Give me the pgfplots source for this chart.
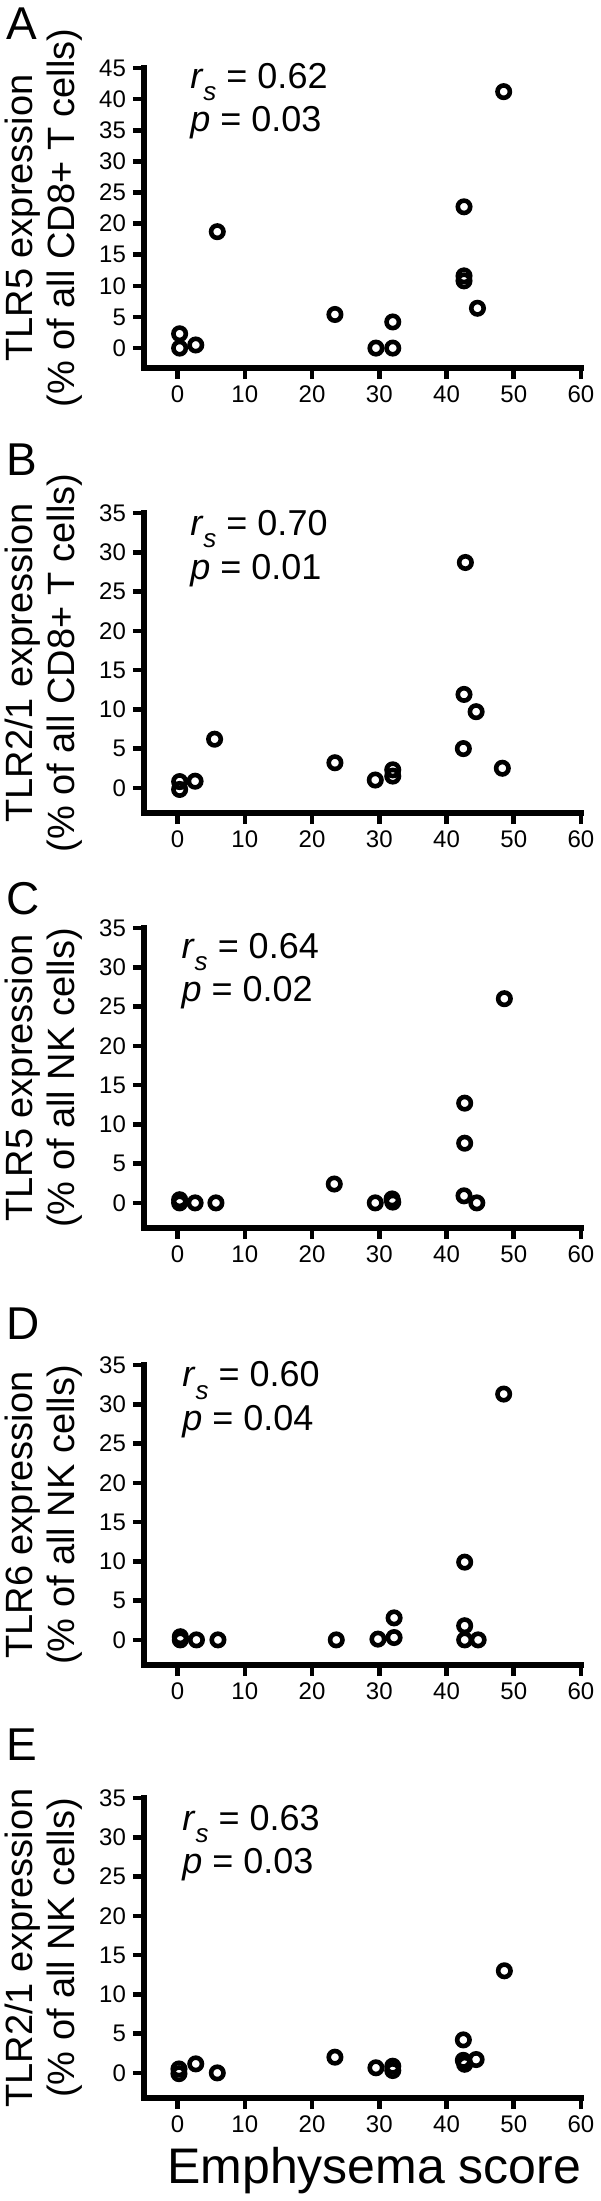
\documentclass[border=0pt]{standalone}
\usepackage{pgfplots}
\pgfplotsset{compat=1.18}
\usepackage{fontspec}
\setmainfont{Liberation Sans}

\pgfplotsset{
  panel/.style={
    scale only axis, width=218.5pt, height=150pt,
    xmin=-5, xmax=60, ymin=-3.2,
    axis x line=bottom, axis y line=left,
    axis line style={-, line width=3pt, line cap=rect},
    tick align=outside, major tick length=5.5pt,
    every tick/.style={black, line width=2.3pt},
    xtick={0,10,...,60},
    tick label style={font=\fontsize{12}{12}\selectfont},
    /pgf/number format/assume math mode=true,
    ylabel style={at={(axis description cs:-0.229,0.5)}, anchor=center, align=center, font=\fontsize{19}{21}\selectfont},
    clip=false,
  },
  pts/.style={only marks, mark=o, mark size=3.1pt, black, mark options={line width=2.3pt}},
}
\newcommand{\rs}[1]{\textit{r}\raisebox{-0.35em}{\fontsize{13}{13}\selectfont\textit{s}} = #1}
\newcommand{\pv}[1]{\textit{p} = #1}
\tikzset{ann/.style={anchor=base west, inner sep=0pt, font=\fontsize{18}{18}\selectfont},
         lett/.style={anchor=north west, inner sep=0pt, font=\fontsize{23}{23}\selectfont}}

\begin{document}
\begin{tikzpicture}
\useasboundingbox (0,0) rectangle (300pt,-1100.5pt);

% Panel A
\node[lett] at (3pt,-3.5pt) {A};
\begin{axis}[panel, at={(72pt,-184pt)}, anchor=south west, ymax=45, ytick={0,5,...,45},
  ylabel={TLR5 expression\\(\% of all CD8+ T cells)}]
\addplot[pts] coordinates {(0.3,0) (0.3,2.3) (2.7,0.5) (5.9,18.7) (23.4,5.4) (29.5,0) (32,0) (32,4.2) (42.6,22.7) (42.6,11.6) (42.6,10.8) (44.6,6.4) (48.5,41.2)};
\node[ann] at (rel axis cs:0.105,0.933) {\rs{0.62}};
\node[ann] at (rel axis cs:0.105,0.787) {\pv{0.03}};
\end{axis}

% Panel B
\node[lett] at (3pt,-221.5pt) {B};
\begin{axis}[panel, at={(72pt,-406.5pt)}, anchor=south west, ymax=35, ytick={0,5,...,35},
  ylabel={TLR2/1 expression\\(\% of all CD8+ T cells)}]
\addplot[pts] coordinates {(0.3,0.8) (0.3,-0.2) (2.6,0.85) (5.5,6.2) (23.4,3.2) (29.4,1.0) (32,1.5) (32,2.3) (42.8,28.7) (42.6,11.9) (44.4,9.7) (42.5,5.0) (48.3,2.5)};
\node[ann] at (rel axis cs:0.105,0.926) {\rs{0.70}};
\node[ann] at (rel axis cs:0.105,0.78) {\pv{0.01}};
\end{axis}

% Panel C
\node[lett] at (3pt,-441pt) {C};
\begin{axis}[panel, at={(72pt,-614pt)}, anchor=south west, ymax=35, ytick={0,5,...,35},
  ylabel={TLR5 expression\\(\% of all NK cells)}]
\addplot[pts] coordinates {(0.3,0.4) (0.3,0) (2.6,0) (5.7,0) (23.3,2.4) (29.4,0) (31.9,0.5) (32.0,0.1) (42.7,12.7) (42.7,7.6) (42.6,0.9) (44.5,0) (48.6,26.0)};
\node[ann] at (rel axis cs:0.085,0.9) {\rs{0.64}};
\node[ann] at (rel axis cs:0.085,0.754) {\pv{0.02}};
\end{axis}

% Panel D
\node[lett] at (3pt,-653.5pt) {D};
\begin{axis}[panel, at={(72pt,-832.5pt)}, anchor=south west, ymax=35, ytick={0,5,...,35},
  ylabel={TLR6 expression\\(\% of all NK cells)}]
\addplot[pts] coordinates {(0.4,0.4) (0.4,0) (2.8,0) (6.0,0) (23.6,0) (29.8,0.1) (32.2,2.8) (32.2,0.3) (42.7,9.9) (42.7,1.8) (42.7,0) (44.7,0) (48.5,31.3)};
\node[ann] at (rel axis cs:0.087,0.927) {\rs{0.60}};
\node[ann] at (rel axis cs:0.087,0.781) {\pv{0.04}};
\end{axis}

% Panel E
\node[lett] at (3pt,-864pt) {E};
\begin{axis}[panel, at={(72pt,-1049pt)}, anchor=south west, ymax=35, ytick={0,5,...,35},
  ylabel={TLR2/1 expression\\(\% of all NK cells)},
  xlabel={Emphysema score},
  xlabel style={at={(axis description cs:0.527,0)}, anchor=base, yshift=-42.5pt, font=\fontsize{25}{25}\selectfont}]
\addplot[pts] coordinates {(0.2,0.5) (0.2,-0.1) (2.7,1.15) (5.9,0) (23.4,2.0) (29.5,0.65) (32,0.85) (32,0.3) (42.5,4.2) (42.5,1.6) (42.7,1.1) (44.4,1.7) (48.6,13.0)};
\node[ann] at (rel axis cs:0.087,0.893) {\rs{0.63}};
\node[ann] at (rel axis cs:0.087,0.747) {\pv{0.03}};
\end{axis}
\end{tikzpicture}
\end{document}
